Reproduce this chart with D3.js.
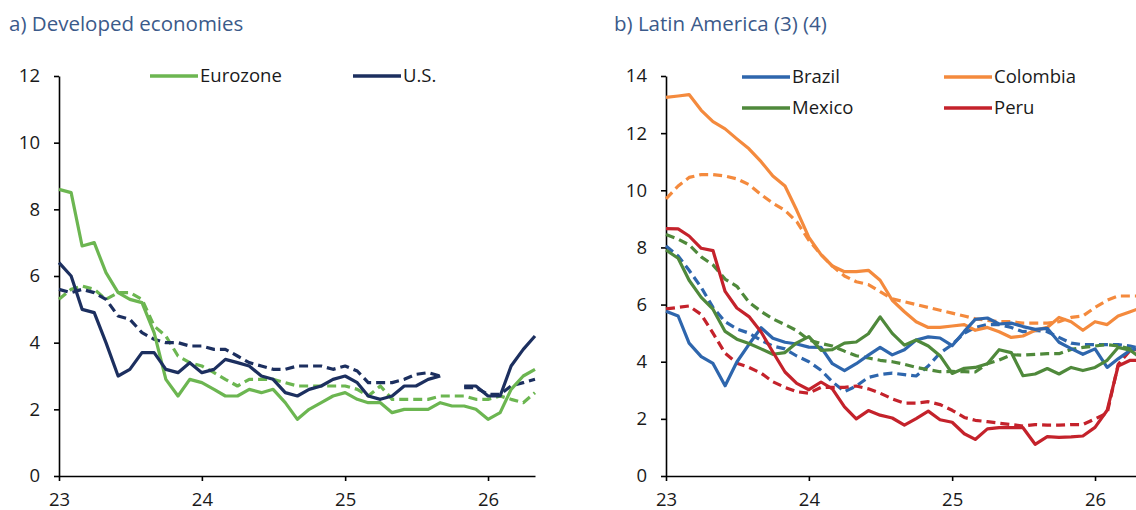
<!DOCTYPE html>
<html>
<head>
<meta charset="utf-8">
<script src="https://cdn.jsdelivr.net/npm/d3@7"></script>
<style>
  body { margin: 0; background: #fff; }
  svg { display: block; }
</style>
</head>
<body>
<div id="vizcontainer"></div>
<script>
// monthly data, Jan 2023 .. May 2026 (index 0 = Jan 23)
const startMonth = new Date(2023, 0, 1);
const yearTicks = ['23', '24', '25', '26'];
const yearDates = [new Date(2023, 0, 1), new Date(2024, 0, 1), new Date(2025, 0, 1), new Date(2026, 0, 1)];

// a) developed economies
const ezHead = [8.6, 8.5, 6.9, 7.0, 6.1, 5.5, 5.3, 5.2, 4.3, 2.9, 2.4, 2.9, 2.8, 2.6, 2.4, 2.4, 2.6, 2.5, 2.6, 2.2, 1.7, 2.0, 2.2, 2.4, 2.5, 2.3, 2.2, 2.2, 1.9, 2.0, 2.0, 2.0, 2.2, 2.1, 2.1, 2.0, 1.7, 1.9, 2.6, 3.0, 3.2];
const ezCore = [5.3, 5.6, 5.7, 5.6, 5.3, 5.5, 5.5, 5.3, 4.5, 4.2, 3.6, 3.4, 3.3, 3.1, 2.9, 2.7, 2.9, 2.9, 2.9, 2.8, 2.7, 2.7, 2.7, 2.7, 2.7, 2.6, 2.4, 2.7, 2.3, 2.3, 2.3, 2.3, 2.4, 2.4, 2.4, 2.3, 2.3, 2.4, 2.3, 2.2, 2.5];
const usHead = [6.4, 6.0, 5.0, 4.9, 4.0, 3.0, 3.2, 3.7, 3.7, 3.2, 3.1, 3.4, 3.1, 3.2, 3.5, 3.4, 3.3, 3.0, 2.9, 2.5, 2.4, 2.6, 2.7, 2.9, 3.0, 2.8, 2.4, 2.3, 2.4, 2.7, 2.7, 2.9, 3.0, null, 2.7, 2.7, 2.4, 2.4, 3.3, 3.8, 4.2];
const usCore = [5.6, 5.5, 5.6, 5.5, 5.3, 4.8, 4.7, 4.3, 4.1, 4.0, 4.0, 3.9, 3.9, 3.8, 3.8, 3.6, 3.4, 3.3, 3.2, 3.2, 3.3, 3.3, 3.3, 3.2, 3.3, 3.15, 2.8, 2.8, 2.8, 2.9, 3.05, 3.1, 3.0, null, 2.65, 2.65, 2.45, 2.45, 2.7, 2.8, 2.9];

// b) Latin America
const brHead = [5.77, 5.6, 4.65, 4.18, 3.94, 3.16, 3.99, 4.61, 5.19, 4.82, 4.68, 4.62, 4.51, 4.5, 3.93, 3.69, 3.93, 4.23, 4.5, 4.24, 4.42, 4.76, 4.87, 4.83, 4.56, 5.06, 5.48, 5.53, 5.32, 5.35, 5.23, 5.13, 5.17, 4.68, 4.46, 4.26, 4.45, 3.8, 4.1, 4.4, 4.5];
const brCore = [8.05, 7.7, 7.2, 6.6, 5.9, 5.4, 5.15, 5.0, 4.75, 4.55, 4.45, 4.2, 4.0, 3.7, 3.3, 2.95, 3.15, 3.45, 3.55, 3.6, 3.55, 3.5, 3.85, 4.3, 4.6, 5.0, 5.2, 5.3, 5.3, 5.2, 5.05, 5.1, 5.05, 4.85, 4.65, 4.6, 4.6, 4.6, 4.6, 4.55, 4.45];
const coHead = [13.25, 13.3, 13.35, 12.8, 12.4, 12.15, 11.8, 11.45, 11.0, 10.5, 10.15, 9.3, 8.35, 7.75, 7.35, 7.15, 7.15, 7.2, 6.85, 6.15, 5.75, 5.4, 5.2, 5.2, 5.25, 5.3, 5.1, 5.2, 5.05, 4.85, 4.9, 5.1, 5.2, 5.55, 5.4, 5.1, 5.4, 5.3, 5.6, 5.75, 5.9];
const coCore = [9.7, 10.15, 10.45, 10.55, 10.55, 10.5, 10.4, 10.2, 9.85, 9.55, 9.3, 8.9, 8.25, 7.75, 7.35, 7.0, 6.8, 6.7, 6.45, 6.2, 6.1, 6.0, 5.9, 5.8, 5.7, 5.6, 5.5, 5.45, 5.4, 5.4, 5.35, 5.35, 5.35, 5.4, 5.55, 5.6, 5.9, 6.15, 6.3, 6.3, 6.3];
const mxHead = [7.91, 7.62, 6.85, 6.25, 5.84, 5.06, 4.79, 4.64, 4.45, 4.26, 4.32, 4.66, 4.88, 4.4, 4.42, 4.65, 4.69, 4.98, 5.57, 4.99, 4.58, 4.76, 4.55, 4.21, 3.59, 3.77, 3.8, 3.93, 4.42, 4.32, 3.51, 3.57, 3.76, 3.57, 3.8, 3.69, 3.8, 4.05, 4.5, 4.4, 4.1];
const mxCore = [8.45, 8.29, 8.09, 7.67, 7.39, 6.89, 6.64, 6.08, 5.76, 5.5, 5.3, 5.09, 4.76, 4.64, 4.55, 4.37, 4.21, 4.13, 4.05, 4.0, 3.91, 3.8, 3.72, 3.65, 3.66, 3.65, 3.64, 3.93, 4.06, 4.24, 4.23, 4.26, 4.28, 4.28, 4.43, 4.5, 4.55, 4.6, 4.55, 4.45, 4.3];
const peHead = [8.66, 8.65, 8.4, 7.97, 7.89, 6.46, 5.88, 5.58, 5.04, 4.34, 3.64, 3.24, 3.02, 3.29, 3.05, 2.42, 2.0, 2.29, 2.13, 2.03, 1.78, 2.01, 2.27, 1.97, 1.88, 1.48, 1.28, 1.65, 1.69, 1.69, 1.69, 1.11, 1.38, 1.35, 1.37, 1.4, 1.7, 2.3, 3.85, 4.05, 4.05];
const peCore = [5.85, 5.9, 5.95, 5.65, 5.0, 4.3, 3.95, 3.8, 3.6, 3.3, 3.1, 2.95, 2.9, 3.1, 3.1, 3.1, 3.15, 3.05, 2.9, 2.7, 2.55, 2.55, 2.6, 2.5, 2.3, 2.05, 1.95, 1.9, 1.85, 1.8, 1.75, 1.8, 1.78, 1.78, 1.8, 1.8, 2.0, 2.2, 3.9, 4.4, 4.45];

const
  width = 1136,
  height = 510,
  plotTop = 76,
  plotBottom = 476,
  plotWidth = 476,
  font = '"Open Sans", "Noto Sans", sans-serif',
  colors = { ez: '#6cb651', us: '#1c2f5f', br: '#2e66ad', co: '#f48a3d', mx: '#4f893b', pe: '#c4222b' }
  ;

const svg = d3.select('#vizcontainer')
  .append('svg')
  .attr('width', width)
  .attr('height', height);

function drawPanel(cfg) {
  const g = svg.append('g');

  const x = d3.scaleTime()
    .domain([startMonth, d3.timeMonth.offset(startMonth, 40)])
    .range([cfg.left, cfg.left + plotWidth]);

  const y = d3.scaleLinear()
    .domain([0, cfg.yMax])
    .range([plotBottom, plotTop]);

  g.append('text')
    .text(cfg.title)
    .attr('x', cfg.titleX)
    .attr('y', 31)
    .attr('font-family', font)
    .attr('font-size', 20.5)
    .attr('fill', '#3b5a8a');

  g.append('g')
    .attr('transform', `translate(${cfg.left},0)`)
    .call(d3.axisLeft(y).tickValues(d3.range(0, cfg.yMax + 1, 2)).tickSize(5).tickSizeOuter(0).tickPadding(14));

  g.append('g')
    .attr('transform', `translate(0,${plotBottom})`)
    .call(d3.axisBottom(x).tickValues(yearDates).tickFormat((d, i) => yearTicks[i]).tickSize(5).tickSizeOuter(0).tickPadding(12));

  g.selectAll('.domain, .tick line')
    .attr('stroke', '#000')
    .attr('stroke-width', 1.6);

  g.selectAll('.tick text')
    .attr('font-family', font)
    .attr('font-size', 18.5)
    .attr('fill', '#1a1a1a');

  const line = d3.line()
    .defined(d => d !== null)
    .x((d, i) => x(d3.timeMonth.offset(startMonth, i)))
    .y(d => y(d));

  cfg.series.forEach(s => {
    g.append('path')
      .datum(s.values)
      .attr('d', line)
      .attr('fill', 'none')
      .attr('stroke', s.color)
      .attr('stroke-width', 3.2)
      .attr('stroke-linejoin', 'round')
      .attr('stroke-dasharray', s.dashed ? '9,5' : null);
  });

  // legend
  cfg.legend.forEach(l => {
    g.append('line')
      .attr('x1', l.x).attr('x2', l.x + 48)
      .attr('y1', l.y).attr('y2', l.y)
      .attr('stroke', l.color)
      .attr('stroke-width', 3.5);
    g.append('text')
      .text(l.name)
      .attr('x', l.x + 50)
      .attr('y', l.y)
      .attr('dy', '0.35em')
      .attr('font-family', font)
      .attr('font-size', 18.5)
      .attr('fill', '#1a1a1a');
  });
}

drawPanel({
  title: 'a) Developed economies',
  titleX: 9,
  left: 59,
  yMax: 12,
  series: [
    { values: ezCore, color: colors.ez, dashed: true },
    { values: usCore, color: colors.us, dashed: true },
    { values: ezHead, color: colors.ez },
    { values: usHead, color: colors.us }
  ],
  legend: [
    { name: 'Eurozone', color: colors.ez, x: 150, y: 76 },
    { name: 'U.S.', color: colors.us, x: 353, y: 76 }
  ]
});

drawPanel({
  title: 'b) Latin America (3) (4)',
  titleX: 614,
  left: 666,
  yMax: 14,
  series: [
    { values: coCore, color: colors.co, dashed: true },
    { values: brCore, color: colors.br, dashed: true },
    { values: mxCore, color: colors.mx, dashed: true },
    { values: peCore, color: colors.pe, dashed: true },
    { values: coHead, color: colors.co },
    { values: brHead, color: colors.br },
    { values: mxHead, color: colors.mx },
    { values: peHead, color: colors.pe }
  ],
  legend: [
    { name: 'Brazil', color: colors.br, x: 742, y: 77 },
    { name: 'Colombia', color: colors.co, x: 944, y: 77 },
    { name: 'Mexico', color: colors.mx, x: 742, y: 108 },
    { name: 'Peru', color: colors.pe, x: 944, y: 108 }
  ]
});
</script>
</body>
</html>
